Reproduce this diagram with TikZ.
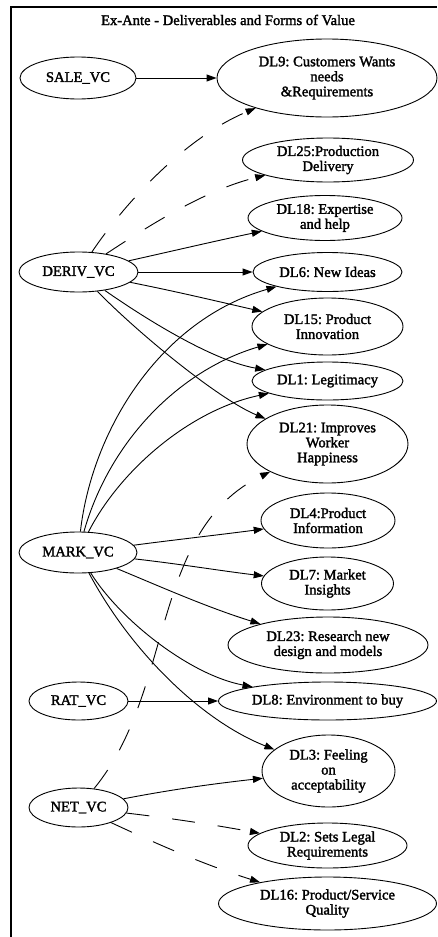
\documentclass[tikz,border=0pt]{standalone}
\usepackage{fontspec}
\setmainfont{Liberation Serif}
\newfontfamily\gvface{Liberation Serif}[FakeBold=1.8]
\usetikzlibrary{shapes.geometric,arrows.meta}
\newcommand{\gvfont}{\gvface\fontsize{14.6}{15}\selectfont\frenchspacing}
\tikzset{
  vc/.style={ellipse, draw, line width=0.9pt, inner sep=0pt, align=center, font=\gvfont},
  dl/.style={vc},
  link/.style={line width=0.9pt, -{Triangle[length=10pt,width=7pt]}},
  dlink/.style={link, dash pattern=on 23pt off 23pt},
}
\begin{document}
\begin{tikzpicture}[x=1pt,y=-1pt]
\useasboundingbox (0,0) rectangle (437,937);
% cluster frame and title
\draw[line width=1.2pt] (11,937) -- (11,7) -- (437,7);
\node[font=\gvfont, inner sep=0pt] (title) at (228,20) {Ex-Ante - Deliverables and Forms of Value};

% value-creation sources
\node[vc, minimum width=116, minimum height=42] (SALE) at (78,78) {SALE\_VC};
\node[vc, minimum width=119, minimum height=40] (DERIV) at (78.5,272) {DERIV\_VC};
\node[vc, minimum width=118, minimum height=41] (MARK) at (78,552.5) {MARK\_VC};
\node[vc, minimum width=99, minimum height=38] (RAT) at (78.5,701) {RAT\_VC};
\node[vc, minimum width=99, minimum height=39] (NET) at (78.5,807.5) {NET\_VC};

% deliverables
\node[dl, minimum width=220, minimum height=78] (DL9) at (327,78) {DL9: Customers Wants\\needs\\\&Requirements};
\node[dl, minimum width=171, minimum height=44] (DL25) at (328,160) {DL25:Production\\Delivery};
\node[dl, minimum width=154, minimum height=45] (DL18) at (325,218) {DL18: Expertise\\and help};
\node[dl, minimum width=149, minimum height=39] (DL6) at (327.5,272) {DL6: New Ideas};
\node[dl, minimum width=151, minimum height=57] (DL15) at (327.5,326.5) {DL15: Product\\Innovation};
\node[dl, minimum width=151, minimum height=38] (DL1) at (327.5,381) {DL1: Legitimacy};
\node[dl, minimum width=161, minimum height=78] (DL21) at (327.5,444) {DL21: Improves\\Worker\\Happiness};
\node[dl, minimum width=134, minimum height=55] (DL4) at (328,520.5) {DL4:Product\\Information};
\node[dl, minimum width=132, minimum height=53] (DL7) at (327.5,583.5) {DL7: Market\\Insights};
\node[dl, minimum width=200, minimum height=56] (DL23) at (328,645) {DL23: Research new\\design and models};
\node[dl, minimum width=218, minimum height=38] (DL8) at (327.5,701) {DL8: Environment to buy};
\node[dl, minimum width=133, minimum height=72] (DL3) at (328.5,771) {DL3: Feeling\\on\\acceptability};
\node[dl, minimum width=159, minimum height=45] (DL2) at (327.5,845.5) {DL2: Sets Legal\\Requirements};
\node[dl, minimum width=218, minimum height=53] (DL16) at (327.5,903.5) {DL16: Product/Service\\Quality};

% SALE_VC
\draw[link] (SALE) -- (DL9);

% DERIV_VC
\draw[dlink] (DERIV) .. controls (120,210) and (180,140) .. (DL9);
\draw[dlink] (DERIV) .. controls (150,225) and (205,190) .. (DL25);
\draw[link] (DERIV) .. controls (172.7,251) and (215.3,241) .. (DL18);
\draw[link] (DERIV) -- (DL6);
\draw[link] (DERIV) .. controls (178.7,292) and (220.3,302) .. (DL15);
\draw[link] (DERIV) .. controls (140,315) and (210,360) .. (DL1);
\draw[link] (DERIV) .. controls (140,335) and (220,400) .. (DL21);

% MARK_VC
\draw[link] (MARK) .. controls (92,430) and (160,320) .. (DL6);
\draw[link] (MARK) .. controls (110,440) and (180,370) .. (DL15);
\draw[link] (MARK) .. controls (120,470) and (190,410) .. (DL1);
\draw[link] (MARK) .. controls (178.7,539.3) and (220.3,534.7) .. (DL4);
\draw[link] (MARK) .. controls (180,564) and (222,571) .. (DL7);
\draw[link] (MARK) .. controls (159,586) and (206,607) .. (DL23);
\draw[link] (MARK) .. controls (120,620) and (190,675) .. (DL8);
\draw[link] (MARK) .. controls (130,650) and (200,720) .. (DL3);

% RAT_VC
\draw[link] (RAT) -- (DL8);

% NET_VC
\draw[dlink] (NET) .. controls (175,690) and (150,530) .. (DL21);
\draw[link] (NET) .. controls (169,790) and (211,784) .. (DL3);
\draw[dlink] (NET) .. controls (169,818) and (209,824) .. (DL2);
\draw[dlink] (NET) .. controls (155,843) and (202,864) .. (DL16);
\end{tikzpicture}
\end{document}
